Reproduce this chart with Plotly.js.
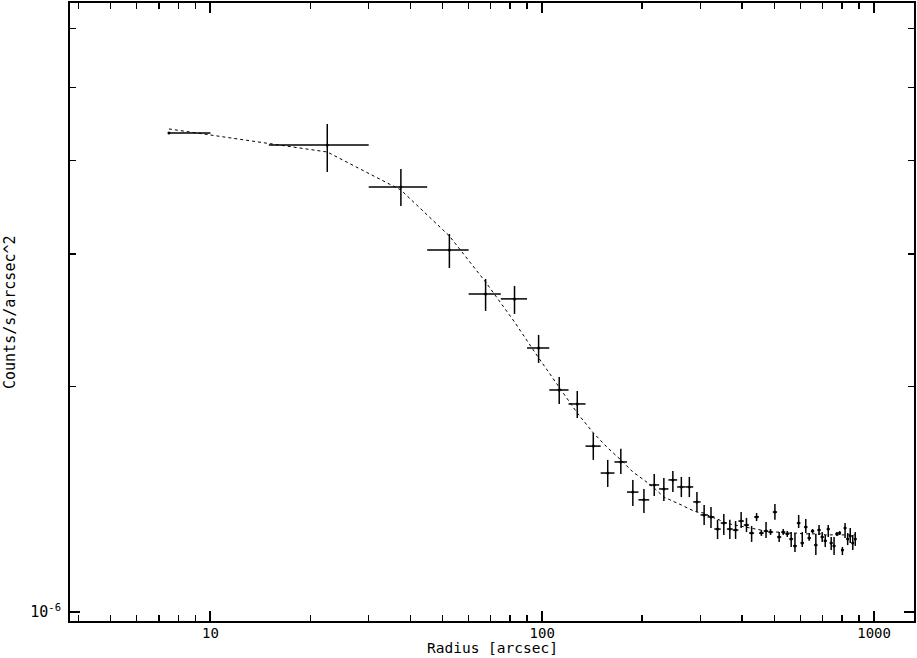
<!DOCTYPE html>
<html>
<head>
<meta charset="utf-8">
<script src="https://cdn.plot.ly/plotly-3.0.1.min.js"></script>
<style>
html, body { margin: 0; padding: 0; background: #ffffff; }
#chart { width: 917px; height: 658px; }
</style>
</head>
<body>
<div id="chart"></div>
<script>
// Radial surface-brightness profile (bin centres in arcsec)
const radius = [7.5, 22.5, 37.5, 52.5, 67.5, 82.5, 97.5, 112.5, 127.5, 142.5,
  157.5, 172.5, 187.5, 202.5, 217.5, 232.5, 247.5, 262.5, 277.5, 292.5,
  307.5, 322.5, 337.5, 352.5, 367.5, 382.5, 397.5, 412.5, 427.5, 442.5,
  457.5, 472.5, 487.5, 502.5, 517.5, 532.5, 547.5, 562.5, 577.5, 592.5,
  607.5, 622.5, 637.5, 652.5, 667.5, 682.5, 697.5, 712.5, 727.5, 742.5,
  757.5, 772.5, 787.5, 802.5, 817.5, 832.5, 847.5, 862.5, 877.5];

// bin half-width (arcsec); the first bin only extends to firstBinUpper
const binHalfWidth = 7.5;
const firstBinUpper = 10.0;

// counts/s/arcsec^2 in units of 1e-6
const counts = [4.352, 4.194, 3.687, 3.039, 2.655, 2.615, 2.249, 1.977, 1.894, 1.664,
  1.532, 1.585, 1.445, 1.411, 1.477, 1.459, 1.500, 1.468, 1.468, 1.402,
  1.347, 1.339, 1.290, 1.314, 1.290, 1.286, 1.322, 1.306, 1.274, 1.339,
  1.274, 1.282, 1.278, 1.359, 1.259, 1.278, 1.271, 1.251, 1.225, 1.314,
  1.236, 1.298, 1.255, 1.282, 1.228, 1.286, 1.259, 1.244, 1.290, 1.236,
  1.225, 1.271, 1.274, 1.210, 1.294, 1.251, 1.263, 1.236, 1.251];

const countsUpper = [4.352, 4.474, 3.896, 3.192, 2.780, 2.721, 2.341, 2.057, 1.971, 1.733,
  1.595, 1.650, 1.500, 1.459, 1.528, 1.509, 1.542, 1.514, 1.514, 1.445,
  1.389, 1.380, 1.327, 1.351, 1.327, 1.322, 1.359, 1.335, 1.302, 1.355,
  1.286, 1.318, 1.290, 1.393, 1.278, 1.290, 1.282, 1.278, 1.274, 1.347,
  1.278, 1.330, 1.274, 1.290, 1.271, 1.306, 1.278, 1.267, 1.306, 1.259,
  1.259, 1.278, 1.282, 1.221, 1.314, 1.274, 1.294, 1.267, 1.278];

const countsLower = [4.352, 3.861, 3.478, 2.875, 2.520, 2.497, 2.148, 1.894, 1.814, 1.595,
  1.468, 1.528, 1.385, 1.355, 1.428, 1.406, 1.445, 1.423, 1.423, 1.359,
  1.306, 1.294, 1.251, 1.267, 1.251, 1.251, 1.294, 1.278, 1.240, 1.322,
  1.263, 1.255, 1.267, 1.327, 1.240, 1.267, 1.259, 1.221, 1.202, 1.294,
  1.221, 1.274, 1.244, 1.274, 1.191, 1.267, 1.240, 1.221, 1.259, 1.210,
  1.191, 1.263, 1.267, 1.191, 1.255, 1.228, 1.236, 1.210, 1.225];

// best-fit model at the bin centres (units of 1e-6)
const model = [4.406, 4.105, 3.653, 3.172, 2.754, 2.436, 2.182, 1.995, 1.842, 1.733,
  1.655, 1.595, 1.537, 1.500, 1.463, 1.423, 1.406, 1.389, 1.372, 1.359,
  1.355, 1.339, 1.330, 1.318, 1.310, 1.306, 1.302, 1.298, 1.294, 1.290,
  1.286, 1.282, 1.278, 1.278, 1.278, 1.274, 1.274, 1.274, 1.274, 1.274,
  1.271, 1.271, 1.271, 1.271, 1.271, 1.271, 1.271, 1.267, 1.267, 1.267,
  1.267, 1.267, 1.267, 1.267, 1.267, 1.267, 1.267, 1.267, 1.267];

const unit = 1e-6;

const xMajorTicks = [10, 100, 1000];
const xMajorLabels = ['10', '100', '1000'];
const xMinorTicks = [4, 5, 6, 7, 8, 9, 20, 30, 40, 50, 60, 70, 80, 90,
  200, 300, 400, 500, 600, 700, 800, 900];
const yMajorTicks = [1e-6];
const yMajorLabels = ['10<sup>-6</sup>'];
const yMinorTicks = [2e-6, 3e-6, 4e-6, 5e-6, 6e-6];
const xTitle = 'Radius [arcsec]';
const yTitle = 'Counts/s/arcsec^2';

const y = counts.map(v => v * unit);
const errPlus = countsUpper.map((v, i) => (v - counts[i]) * unit);
const errMinus = countsLower.map((v, i) => (counts[i] - v) * unit);
const xErrPlus = radius.map((r, i) => i === 0 ? firstBinUpper - r : binHalfWidth);
const xErrMinus = radius.map((r, i) => i === 0 ? 0 : binHalfWidth);

const fontFam = '"DejaVu Sans Mono", "Liberation Mono", monospace';
const titleSize = 14.5;

const traces = [
  {
    x: radius,
    y: model.map(v => v * unit),
    type: 'scatter',
    mode: 'lines',
    line: { color: '#000000', width: 1, dash: 'dot' },
    hoverinfo: 'skip',
    showlegend: false
  },
  {
    x: radius,
    y: y,
    type: 'scatter',
    mode: 'markers',
    marker: { color: '#000000', size: 3 },
    error_y: { type: 'data', symmetric: false, array: errPlus, arrayminus: errMinus,
      color: '#000000', thickness: 1.5, width: 0 },
    error_x: { type: 'data', symmetric: false, array: xErrPlus, arrayminus: xErrMinus,
      color: '#000000', thickness: 1.5, width: 0 },
    showlegend: false
  }
];

const W = 917, H = 658;
const plotLeft = 70, plotRight = 3, plotTop = 3, plotBottom = 37;
const plotWidth = W - plotLeft - plotRight;
const plotHeight = H - plotTop - plotBottom;

const layout = {
  width: W,
  height: H,
  margin: { l: plotLeft, r: plotRight, t: plotTop, b: plotBottom },
  paper_bgcolor: '#ffffff',
  plot_bgcolor: '#ffffff',
  showlegend: false,
  font: { family: fontFam, size: 14, color: '#000000' },
  xaxis: {
    type: 'log',
    range: [Math.log10(3.775), Math.log10(1319)],
    tickmode: 'array',
    tickvals: xMajorTicks,
    ticktext: xMajorLabels,
    ticks: 'inside',
    ticklen: 10,
    tickwidth: 2,
    tickcolor: '#000000',
    mirror: 'allticks',
    showline: true,
    linecolor: '#000000',
    linewidth: 2,
    showgrid: false,
    zeroline: false,
    ticklabelstandoff: -2,
    tickfont: { family: fontFam, size: 14, color: '#000000' },
    minor: { tickmode: 'array', tickvals: xMinorTicks, ticks: 'inside', ticklen: 6,
      tickwidth: 1.3, tickcolor: '#000000', showgrid: false }
  },
  yaxis: {
    type: 'log',
    range: [Math.log10(0.9727e-6), Math.log10(6.486e-6)],
    tickmode: 'array',
    tickvals: yMajorTicks,
    ticktext: yMajorLabels,
    ticks: 'inside',
    ticklen: 10,
    tickwidth: 2,
    tickcolor: '#000000',
    mirror: 'allticks',
    showline: true,
    linecolor: '#000000',
    linewidth: 2,
    showgrid: false,
    zeroline: false,
    ticklabelstandoff: 4,
    tickfont: { family: fontFam, size: 15, color: '#000000' },
    minor: { tickmode: 'array', tickvals: yMinorTicks, ticks: 'inside', ticklen: 6,
      tickwidth: 1.3, tickcolor: '#000000', showgrid: false }
  },
  annotations: [
    {
      text: yTitle,
      xref: 'paper', yref: 'paper',
      x: (10 - plotLeft) / plotWidth, y: 0.5,
      xanchor: 'center', yanchor: 'middle',
      textangle: -90,
      showarrow: false,
      font: { family: fontFam, size: 15, color: '#000000' }
    },
    {
      text: xTitle,
      xref: 'paper', yref: 'paper',
      x: 0.5, y: ((H - plotBottom) - 648) / plotHeight,
      xanchor: 'center', yanchor: 'middle',
      borderpad: 0,
      showarrow: false,
      font: { family: fontFam, size: titleSize, color: '#000000' }
    }
  ]
};

Plotly.newPlot('chart', traces, layout, { displayModeBar: false, staticPlot: true });
</script>
</body>
</html>
